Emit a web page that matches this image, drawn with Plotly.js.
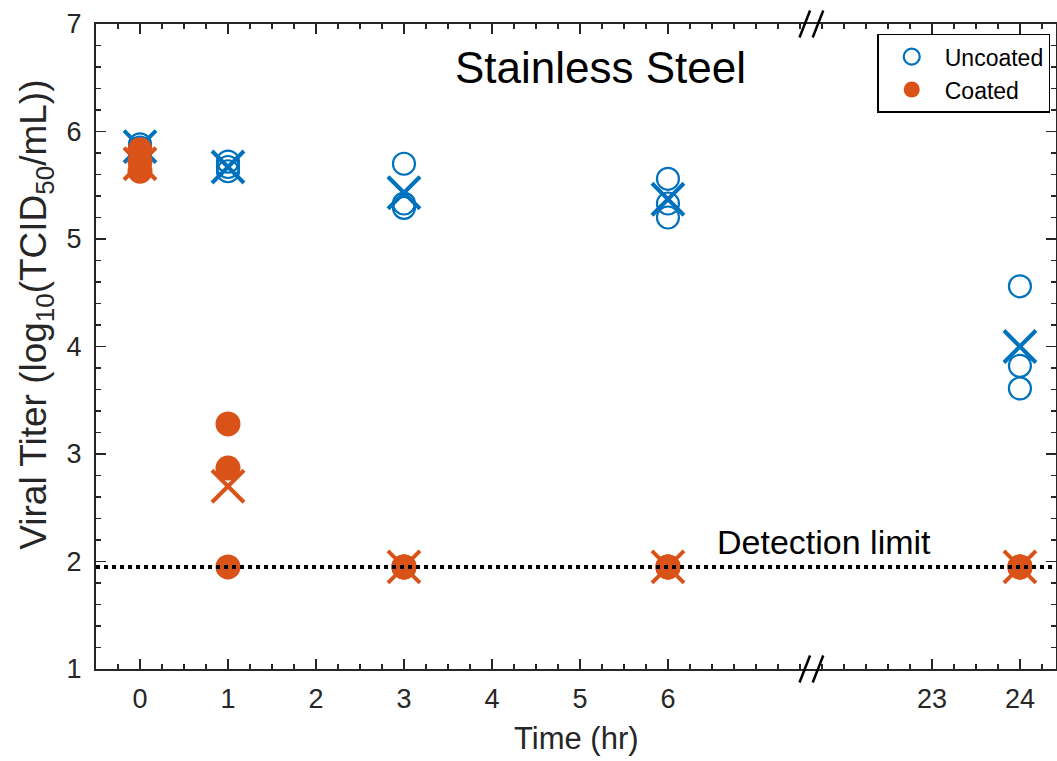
<!DOCTYPE html>
<html>
<head>
<meta charset="utf-8">
<script src="https://cdn.plot.ly/plotly-3.0.1.min.js"></script>
<style>html,body{margin:0;padding:0;background:#fff;}#chart{width:1057px;height:761px;}</style>
</head>
<body>
<div id="chart"></div>
<script>
// ---- data ----
const times = [0, 1, 3, 6, 24];                 // hours
const uncoatedRep1 = [5.88, 5.72, 5.70, 5.56, 4.56];
const uncoatedRep2 = [5.85, 5.67, 5.33, 5.33, 3.82];
const uncoatedRep3 = [5.80, 5.63, 5.29, 5.20, 3.61];
const uncoatedMean = [5.86, 5.67, 5.43, 5.37, 4.00];
const coatedRep1 = [5.83, 3.28, 1.95, 1.95, 1.95];
const coatedRep2 = [5.72, 2.87, 1.95, 1.95, 1.95];
const coatedRep3 = [5.63, 1.95, 1.95, 1.95, 1.95];
const coatedMean = [5.70, 2.70, 1.95, 1.95, 1.95];
const detectionLimit = 1.95;
const tickHours = [0, 1, 2, 3, 4, 5, 6, 23, 24];
const tickLabels = ['0', '1', '2', '3', '4', '5', '6', '23', '24'];

// broken time axis: hours after the break are shifted left
const breakAfterHour = 6;
const hoursCut = 14;
const breakPos = 7.63;
function toAxis(t) { return t > breakAfterHour ? t - hoursCut : t; }

const blue = '#0072BD';
const orange = '#D95319';
const axisColor = '#262626';
const fontFam = '"Liberation Sans", Arial, Helvetica, sans-serif';

function flatten(reps) {
  const xs = [], ys = [];
  reps.forEach(r => r.forEach((v, i) => { xs.push(toAxis(times[i])); ys.push(v); }));
  return {x: xs, y: ys};
}
const unc = flatten([uncoatedRep1, uncoatedRep2, uncoatedRep3]);
const coa = flatten([coatedRep1, coatedRep2, coatedRep3]);
const tx = times.map(toAxis);

const traces = [
  {x: unc.x, y: unc.y, type: 'scatter', mode: 'markers', name: 'Uncoated',
   marker: {symbol: 'circle-open', size: 22, color: blue, line: {width: 2.2, color: blue}}},
  {x: tx, y: uncoatedMean, type: 'scatter', mode: 'markers', showlegend: false, hoverinfo: 'skip',
   marker: {symbol: 'x-thin-open', size: 32, color: blue, line: {width: 4, color: blue}}},
  {x: coa.x, y: coa.y, type: 'scatter', mode: 'markers', name: 'Coated',
   marker: {symbol: 'circle', size: 25, color: orange, line: {width: 0}}},
  {x: tx, y: coatedMean, type: 'scatter', mode: 'markers', showlegend: false, hoverinfo: 'skip',
   marker: {symbol: 'x-thin-open', size: 32, color: orange, line: {width: 4, color: orange}}}
];

// detection-limit line and break marks (two slanted strokes on top and bottom axes)
const shapes = [
  {type: 'line', xref: 'paper', yref: 'y', x0: 0, x1: 1, y0: detectionLimit, y1: detectionLimit,
   layer: 'above', line: {color: '#000', width: 4, dash: '4px,4px'}}
];
const gap = 0.15, half = 0.06, dy = 0.021;
[0, 1].forEach(yp => {
  [-gap / 2, gap / 2].forEach(off => {
    shapes.push({type: 'line', xref: 'x', yref: 'paper',
      x0: breakPos + off - half, x1: breakPos + off + half, y0: yp - dy, y1: yp + dy,
      layer: 'above', line: {color: '#000', width: 2.5}});
  });
});

const layout = {
  width: 1057, height: 761,
  margin: {l: 96, r: 1, t: 24, b: 92, pad: 0},
  paper_bgcolor: '#fff', plot_bgcolor: '#fff',
  font: {family: fontFam, color: axisColor},
  showlegend: true,
  legend: {x: 0.994, xanchor: 'right', y: 0.985, yanchor: 'top',
    bordercolor: '#000', borderwidth: 1.5, bgcolor: '#fff',
    font: {family: fontFam, size: 23, color: '#000'}, tracegroupgap: 0, itemwidth: 56},
  xaxis: {
    range: [-0.5, 10.41], showgrid: false, zeroline: false,
    showline: true, linecolor: axisColor, linewidth: 2, mirror: 'ticks',
    ticks: 'inside', ticklen: 10, tickwidth: 1.5, tickcolor: axisColor,
    tickmode: 'array', tickvals: tickHours.map(toAxis), ticktext: tickLabels,
    ticklabelstandoff: 5,
    tickfont: {family: fontFam, size: 27, color: axisColor},
    minor: {tickmode: 'linear', tick0: 0, dtick: 0.25, ticks: 'inside', ticklen: 5, tickwidth: 1.5, tickcolor: axisColor}
  },
  yaxis: {
    range: [1, 7], showgrid: false, zeroline: false,
    showline: true, linecolor: axisColor, linewidth: 2, mirror: 'ticks',
    ticks: 'inside', ticklen: 10, tickwidth: 1.5, tickcolor: axisColor,
    tickmode: 'linear', tick0: 1, dtick: 1,
    ticklabelstandoff: 7,
    tickfont: {family: fontFam, size: 27, color: axisColor},
    minor: {tickmode: 'linear', tick0: 1, dtick: 0.2, ticks: 'inside', ticklen: 5, tickwidth: 1.5, tickcolor: axisColor}
  },
  shapes: shapes,
  annotations: [
    {text: 'Stainless Steel', xref: 'paper', yref: 'paper', x: 0.526, y: 0.933,
     xanchor: 'center', yanchor: 'middle', showarrow: false,
     font: {family: fontFam, size: 44, color: '#000'}},
    {text: 'Detection limit', xref: 'x', yref: 'y', x: 7.77, y: 2.18,
     xanchor: 'center', yanchor: 'middle', showarrow: false,
     font: {family: fontFam, size: 34, color: '#000'}},
    {text: 'Time (hr)', xref: 'paper', yref: 'paper', x: 0.5, y: -0.108,
     xanchor: 'center', yanchor: 'middle', showarrow: false,
     font: {family: fontFam, size: 31, color: axisColor}},
    {text: 'Viral Titer (log<sub>10</sub>(TCID<sub>50</sub>/mL))', xref: 'paper', yref: 'paper',
     x: -0.062, y: 0.55, xanchor: 'center', yanchor: 'middle', textangle: -90, showarrow: false,
     font: {family: fontFam, size: 37, color: axisColor}}
  ]
};

Plotly.newPlot('chart', traces, layout, {displayModeBar: false, staticPlot: true});
</script>
</body>
</html>
